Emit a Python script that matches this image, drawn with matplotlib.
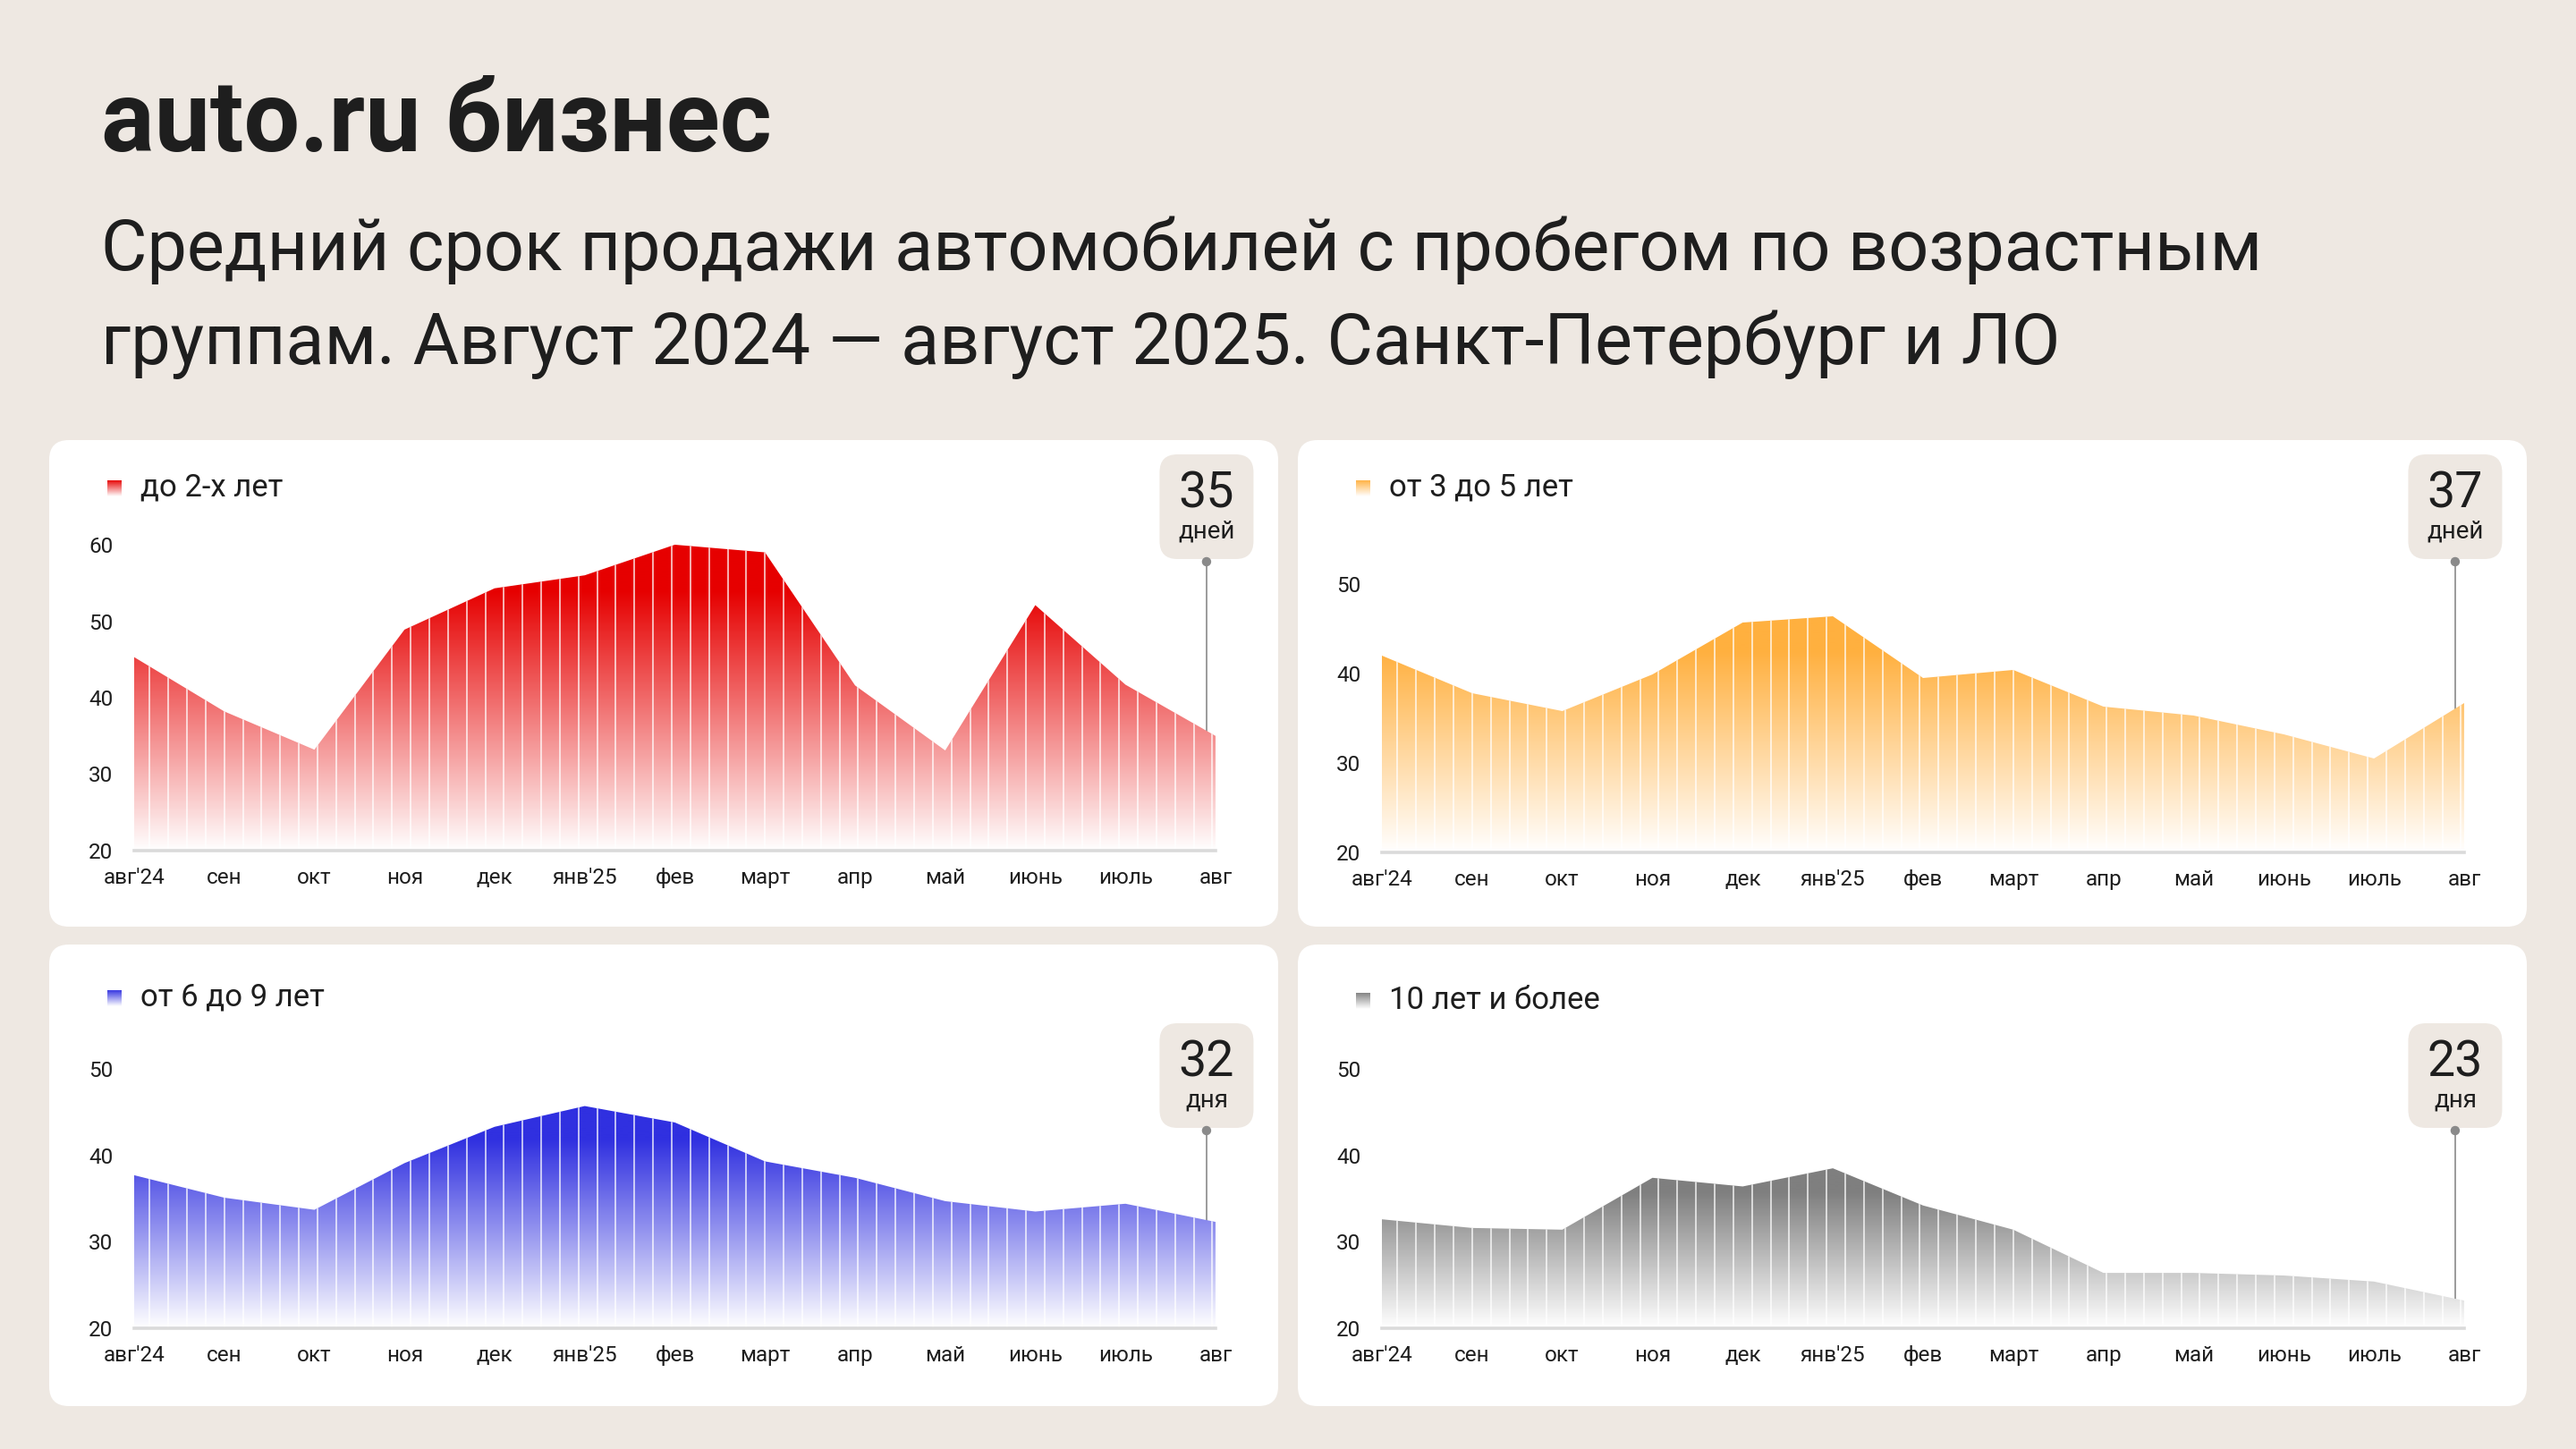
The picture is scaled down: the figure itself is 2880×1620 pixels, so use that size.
import numpy as np
import matplotlib
matplotlib.use("Agg")
import matplotlib.pyplot as plt
from matplotlib.patches import FancyBboxPatch, Polygon, Circle
from matplotlib.colors import to_rgb

plt.rcParams['font.family'] = ['Roboto', 'DejaVu Sans']

# --- data ---
months = ["авг'24", "сен", "окт", "ноя", "дек", "янв'25", "фев",
          "март", "апр", "май", "июнь", "июль", "авг"]

groups = ["до 2-х лет", "от 3 до 5 лет", "от 6 до 9 лет", "10 лет и более"]
colors = ["#E60000", "#FFB03F", "#3030E0", "#7F7F7F"]

days_upto2 = [45.3, 38.2, 33.2, 48.9, 54.3, 56.0, 60.0, 59.0, 41.6, 33.1, 52.1, 41.7, 35.0]
days_3to5 = [42.0, 37.8, 35.8, 39.9, 45.7, 46.4, 39.5, 40.4, 36.3, 35.3, 33.2, 30.5, 36.7]
days_6to9 = [37.7, 35.1, 33.7, 39.1, 43.3, 45.7, 43.8, 39.3, 37.4, 34.7, 33.5, 34.4, 32.3]
days_10plus = [32.6, 31.6, 31.4, 37.4, 36.4, 38.5, 34.2, 31.4, 26.4, 26.4, 26.1, 25.4, 23.2]

series = [days_upto2, days_3to5, days_6to9, days_10plus]
y_max = [60, 50, 50, 50]
y_min = 20

BG = "#EEE8E2"
INK = "#1E1E1E"
W, H = 2880, 1620


def days_word(n):
    if n % 10 == 1 and n % 100 != 11:
        return "день"
    if 2 <= n % 10 <= 4 and not 12 <= n % 100 <= 14:
        return "дня"
    return "дней"


fig = plt.figure(figsize=(W / 100, H / 100), dpi=100)
fig.patch.set_facecolor(BG)

# background layer in pixel coords (y from top)
bg = fig.add_axes([0, 0, 1, 1])
bg.set_xlim(0, W)
bg.set_ylim(H, 0)
bg.axis("off")

bg.text(113, 169, "auto.ru бизнес", fontsize=80, fontweight="bold", color=INK,
        va="baseline", ha="left")
bg.text(113, 302, "Средний срок продажи автомобилей с пробегом по возрастным",
        fontsize=57, color=INK, va="baseline", ha="left")
bg.text(113, 407, "группам. Август 2024 — август 2025. Санкт-Петербург и ЛО",
        fontsize=57, color=INK, va="baseline", ha="left")

# panel boxes (left, top, width, height) in px
panels = [(55, 492, 1374, 544), (1451, 492, 1374, 544),
          (55, 1056, 1374, 516), (1451, 1056, 1374, 516)]
# plot area (left, top, width, height) in px
plot_rects = [(150, 609, 1209, 342), (1545, 653, 1210, 300),
              (150, 1195, 1209, 290), (1545, 1195, 1210, 290)]
legend_dy = [53, 53, 59, 62]
pill_top = [508, 508, 1144, 1144]
line_end = [20, 20.8, 20, 20]

x = np.arange(len(months))
stripes = np.arange(0.172, 12, 12 / 58)
marker_x = 11.9

for i in range(4):
    pl, pt, pw, ph = panels[i]
    bg.add_patch(FancyBboxPatch((pl, pt), pw, ph, boxstyle="round,pad=0,rounding_size=22",
                                facecolor="white", edgecolor="none"))

    l, t, w, h = plot_rects[i]
    ax = fig.add_axes([l / W, 1 - (t + h) / H, w / W, h / H])
    ax.set_facecolor("none")
    y = np.array(series[i])
    col = np.array(to_rgb(colors[i]))

    # gradient fill clipped to the area under the curve
    full_at = y_min + 0.85 * (y.max() - y_min)
    levels = np.linspace(y_min, y_max[i], 400)
    f = np.clip((levels - y_min) / (full_at - y_min), 0, 1)[:, None, None]
    img = (1 - f) * np.ones(3) + f * col
    im = ax.imshow(img, origin="lower", extent=[0, 12, y_min, y_max[i]],
                   aspect="auto", interpolation="bilinear", zorder=1)
    verts = np.column_stack([np.r_[x, x[::-1]], np.r_[y, np.full(len(y), y_min)]])
    area = Polygon(verts, closed=True, facecolor="none", edgecolor="none")
    ax.add_patch(area)
    im.set_clip_path(area)

    vl = ax.vlines(stripes, y_min, y_max[i], colors="white", lw=1.3, alpha=0.75, zorder=2)
    vl.set_clip_path(area)

    ax.axhline(y_min, color="#DADADA", lw=2.6, zorder=3, clip_on=False)

    ax.set_xlim(0, 12)
    ax.set_ylim(y_min, y_max[i])
    ax.set_xticks(x)
    ax.set_xticklabels(months)
    ax.set_yticks(np.arange(y_min, y_max[i] + 1, 10))
    ax.tick_params(length=0, labelsize=17.5, labelcolor=INK)
    ax.tick_params(axis="y", pad=17)
    ax.tick_params(axis="x", pad=14)
    for s in ax.spines.values():
        s.set_visible(False)

    # legend swatch + label
    ly = pt + legend_dy[i]
    sw = np.linspace(1, 0, 50)[:, None, None]
    sw_img = (1 - sw * 0.95) * np.ones(3) + sw * 0.95 * col
    bg.imshow(sw_img, extent=[pl + 65, pl + 81, ly + 10, ly - 8], aspect="auto",
              interpolation="bilinear", zorder=3)
    bg.text(pl + 102, ly, groups[i], fontsize=25, color=INK, va="center", ha="left", zorder=3)

    # pill with the latest value + marker line down to the axis
    mx = l + w * marker_x / 12
    base_y = t + h - (line_end[i] - y_min) / (y_max[i] - y_min) * h
    pw_, ph_ = 105, 117
    ptop = pill_top[i]
    bg.add_patch(FancyBboxPatch((mx - pw_ / 2, ptop), pw_, ph_,
                                boxstyle="round,pad=0,rounding_size=20",
                                facecolor=BG, edgecolor="none", zorder=4))
    last = int(round(y[-1]))
    bg.text(mx, ptop + 44, str(last), fontsize=40, color=INK, ha="center", va="center", zorder=5)
    bg.text(mx, ptop + 86, days_word(last), fontsize=20, color=INK, ha="center", va="center", zorder=5)
    bg.plot([mx, mx], [ptop + ph_ + 3, base_y], color="#8A8A8A", lw=1.2, zorder=6)
    bg.add_patch(Circle((mx, ptop + ph_ + 3), 4.5, color="#8A8A8A", zorder=6))

fig.savefig("out.png", dpi=100, facecolor=BG)
